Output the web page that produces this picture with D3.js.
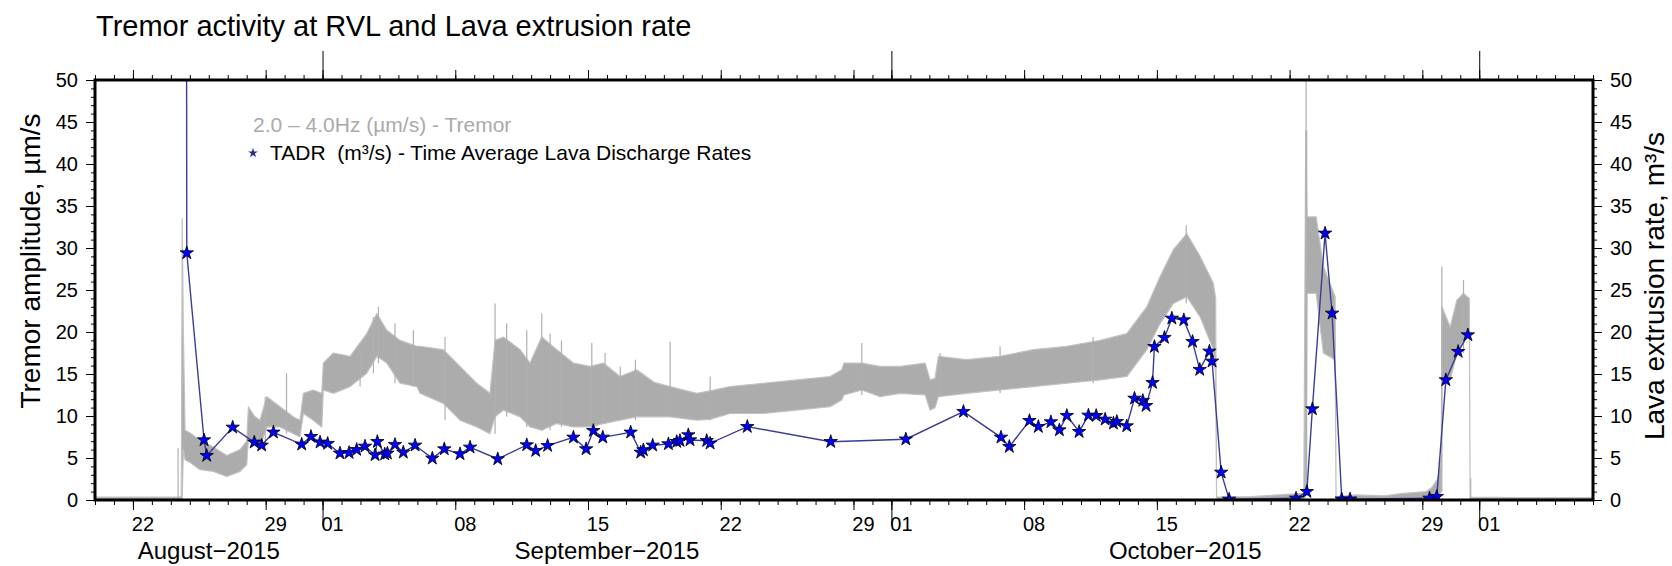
<!DOCTYPE html>
<html>
<head>
<meta charset="utf-8">
<script src="https://cdn.jsdelivr.net/npm/d3@7"></script>
<style>
  body { margin: 0; background: #fff; }
  svg { display: block; }
  text { font-family: "Liberation Sans", Arial, Helvetica, sans-serif; }
</style>
</head>
<body>
<svg id="chart" width="1672" height="566"></svg>
<script>
// ---------------- data (time = fractional days since 2015-08-20 00:00 UTC) ----------------
const startDate = new Date(Date.UTC(2015, 7, 20));
const endDate = new Date(Date.UTC(2015, 10, 7));

// Tremor 2.0-4.0 Hz band: upper and lower envelope of the dense signal (µm/s)
const tremorDay  = [0, 4.35, 4.55, 4.60, 4.66, 4.75, 5.0, 5.54, 6.24, 6.95, 7.65, 8.0, 8.09, 8.40, 8.70, 9.06, 9.76, 10.46, 10.81, 10.99, 11.51, 11.96, 12.04, 12.57, 13.45, 14.33, 14.86, 15.39, 16.09, 16.97, 17.14, 18.37, 19.25, 20.13, 20.83, 21.10, 21.54, 22.42, 22.94, 23.56, 24.35, 25.23, 26.11, 26.81, 27.69, 28.57, 29.5, 30.33, 31.73, 32.44, 33.49, 35.25, 37.01, 38.77, 39.38, 39.5, 40.44, 41.40, 42.46, 43.78, 44.04, 44.3, 44.48, 45.97, 47.73, 49.49, 51.25, 53.01, 54.41, 55.47, 56.17, 56.87, 57.58, 58.28, 58.98, 59.10, 59.15, 61.0, 63.75, 63.85, 63.92, 64.4, 64.78, 65.40, 65.45, 66.5, 68.0, 69.0, 70.2, 70.5, 70.8, 71.0, 71.03, 71.47, 71.82, 72.17, 72.48, 72.52, 75.0, 79.0];
const tremorHigh = [0.35, 0.35, 0.4, 33.5, 20, 8.3, 8.0, 7.1, 6.3, 5.3, 6.0, 7.0, 11.1, 10.0, 9.5, 12.3, 11.1, 9.9, 9.5, 12.7, 13.1, 12.7, 16.3, 17.5, 17.1, 19.8, 22.2, 20.2, 19.0, 18.3, 18.3, 17.9, 15.9, 13.9, 12.7, 19.0, 19.4, 17.9, 16.3, 19.4, 17.9, 16.3, 15.9, 16.3, 14.7, 15.5, 14.0, 13.5, 12.7, 13.0, 13.5, 13.9, 14.3, 14.7, 15.5, 16.3, 16.3, 15.9, 15.9, 16.3, 14.3, 14.5, 17.1, 16.7, 17.1, 17.9, 18.3, 19.0, 19.8, 23.0, 26.6, 29.8, 31.7, 29.0, 25.8, 24.0, 0.35, 0.4, 0.8, 44, 33.7, 33.7, 27.8, 24.2, 0.4, 0.6, 0.5, 0.8, 1.0, 1.5, 2.5, 5.0, 23.0, 20.6, 23.8, 24.6, 24.0, 0.35, 0.3, 0.3];
const tremorLow  = [0, 0, 0, 0.2, 6.0, 4.8, 4.5, 3.6, 3.4, 2.8, 3.4, 4.2, 7.3, 6.6, 6.3, 8.7, 8.7, 7.9, 7.5, 10.3, 9.5, 8.7, 13.1, 12.7, 13.5, 15.1, 17.1, 16.3, 13.9, 13.5, 12.7, 11.5, 9.5, 8.7, 7.9, 9.9, 10.7, 9.9, 8.7, 8.3, 9.1, 8.7, 8.7, 9.1, 9.5, 9.9, 9.9, 9.9, 9.5, 9.6, 10.3, 10.3, 10.7, 11.1, 11.9, 12.5, 13.1, 12.3, 12.7, 12.5, 10.7, 11.0, 12.3, 12.7, 13.1, 13.5, 13.9, 14.3, 14.7, 17.9, 21.0, 23.4, 24.2, 21.8, 17.9, 15.0, 0, 0, 0, 0.5, 24.6, 24.6, 17.5, 16.7, 0, 0, 0, 0, 0, 0, 0.3, 1.0, 14.3, 14.3, 17.5, 19.0, 19.5, 0, 0, 0];

// Isolated tremor spikes reaching above the band
const spikeDay   = [4.38, 8.98, 10.1, 13.98, 14.68, 14.95, 15.82, 16.79, 18.46, 21.10, 21.71, 22.77, 23.56, 24.0, 24.6, 26.2, 26.9, 27.7, 28.5, 30.33, 32.44, 40.44, 44.57, 47.73, 52.64, 57.55, 63.87, 63.90, 71.03, 72.17, 72.55];
const spikeValue = [6.2, 12.3, 15.1, 18.3, 21.8, 23.0, 21.0, 20.2, 19.4, 23.4, 21.0, 20.2, 22.2, 19.8, 19.0, 18.7, 17.5, 15.9, 16.7, 18.8, 14.7, 18.7, 17.5, 18.3, 19.4, 32.7, 50, 44, 27.8, 26.2, 2.6];

// TADR - Time Average Lava Discharge Rates (m³/s)
const tadrDay   = [4.82, 4.84, 5.75, 5.89, 7.26, 8.40, 8.79, 9.41, 10.90, 11.39, 11.87, 12.27, 12.92, 13.40, 13.80, 14.24, 14.77, 14.89, 15.28, 15.42, 15.82, 16.26, 16.88, 17.79, 18.42, 19.25, 19.78, 21.24, 22.77, 23.24, 23.87, 25.23, 25.90, 26.28, 26.78, 28.25, 28.78, 28.92, 29.41, 30.24, 30.68, 30.85, 31.29, 31.38, 32.26, 32.44, 34.40, 38.80, 42.76, 45.80, 47.78, 48.22, 49.28, 49.75, 50.41, 50.86, 51.25, 51.90, 52.39, 52.80, 53.27, 53.71, 53.89, 54.41, 54.82, 55.26, 55.43, 55.77, 55.87, 56.40, 56.79, 57.42, 57.88, 58.26, 58.77, 58.91, 59.39, 59.81, 63.34, 63.91, 64.20, 64.87, 65.24, 65.75, 66.19, 70.38, 70.76, 71.24, 71.89, 72.40];
const tadrValue = [80, 29.4, 7.14, 5.28, 8.65, 6.87, 6.51, 8.06, 6.63, 7.54, 6.87, 6.71, 5.56, 5.63, 5.99, 6.39, 5.36, 6.94, 5.45, 5.56, 6.59, 5.67, 6.51, 4.96, 6.07, 5.48, 6.27, 4.88, 6.55, 5.87, 6.47, 7.46, 6.07, 8.25, 7.46, 8.06, 5.67, 5.95, 6.51, 6.67, 6.94, 7.06, 7.74, 7.14, 7.06, 6.75, 8.73, 6.94, 7.24, 10.52, 7.46, 6.35, 9.44, 8.73, 9.29, 8.33, 10.04, 8.13, 10.08, 10.04, 9.60, 9.13, 9.33, 8.81, 12.10, 11.83, 11.23, 13.97, 18.25, 19.33, 21.63, 21.43, 18.85, 15.52, 17.70, 16.51, 3.29, 0.08, 0.2, 0.99, 10.83, 31.75, 22.22, 0.1, 0.1, 0.2, 0.4, 14.29, 17.66, 19.64];

// Axis text
const yMajorTicks = [0, 5, 10, 15, 20, 25, 30, 35, 40, 45, 50];
const monthLabels = ["August\u22122015", "September\u22122015", "October\u22122015"];
const titleText = "Tremor activity at RVL and Lava extrusion rate";
const leftLabel = "Tremor amplitude, \u00b5m/s";
const rightLabel = "Lava extrusion rate, m\u00b3/s";
const legendTremor = "2.0 \u2013 4.0Hz (\u00b5m/s) - Tremor";
const legendTadr = "TADR  (m\u00b3/s) - Time Average Lava Discharge Rates";

// ---------------- chart ----------------
const DAY = 864e5;
const toDate = d => new Date(startDate.getTime() + d * DAY);
const L = 95, R = 1593, T = 80, B = 500;

const svg = d3.select("#chart");
const x = d3.scaleUtc().domain([startDate, endDate]).range([L, R]);
const y = d3.scaleLinear().domain([0, 50]).range([B, T]);
const y2 = d3.scaleLinear().domain([0, 50]).range([B, T]);

svg.append("defs").append("clipPath").attr("id", "plot")
  .append("rect").attr("x", L).attr("y", T).attr("width", R - L).attr("height", B - T);

const plot = svg.append("g").attr("clip-path", "url(#plot)");

// tremor band
const tremor = tremorDay.map((d, i) => ({ t: toDate(d), hi: tremorHigh[i], lo: tremorLow[i] }));
plot.append("path")
  .datum(tremor)
  .attr("fill", "#acacac")
  .attr("stroke", "#c2c2c2")
  .attr("stroke-width", 1.2)
  .attr("stroke-linejoin", "round")
  .attr("d", d3.area().x(d => x(d.t)).y0(d => y(d.lo)).y1(d => y(d.hi)));

// tremor spikes, rising from the band's lower edge
const bis = d3.bisector(d => d).left;
function lowAt(day) {
  const i = Math.max(1, Math.min(tremorDay.length - 1, bis(tremorDay, day)));
  const d0 = tremorDay[i - 1], d1 = tremorDay[i];
  const f = (day - d0) / (d1 - d0);
  return Math.min(tremorLow[i - 1], tremorLow[i]) + 0 * f;
}
plot.append("g").selectAll("line")
  .data(spikeDay.map((d, i) => ({ t: toDate(d), v: spikeValue[i], lo: lowAt(d) })))
  .join("line")
  .attr("x1", d => x(d.t)).attr("x2", d => x(d.t))
  .attr("y1", d => y(d.lo)).attr("y2", d => y(d.v))
  .attr("stroke", "#b0b0b0").attr("stroke-width", 1.2);

// TADR line + stars
const tadr = tadrDay.map((d, i) => ({ t: toDate(d), v: tadrValue[i] }));
plot.append("path")
  .datum(tadr)
  .attr("fill", "none")
  .attr("stroke", "#3c3c98")
  .attr("stroke-width", 1.4)
  .attr("d", d3.line().x(d => x(d.t)).y(d => y2(d.v)));

const star = d3.symbol().type(d3.symbolStar).size(56);
plot.append("g").selectAll("path")
  .data(tadr.slice(1))
  .join("path")
  .attr("transform", d => `translate(${x(d.t)},${y2(d.v)})`)
  .attr("d", star)
  .attr("fill", "#0000ff")
  .attr("stroke", "#000")
  .attr("stroke-width", 0.8);

// ---------------- axes ----------------
const days = d3.utcDay.range(startDate, d3.utcDay.offset(endDate, 1));
const weekly = d3.utcDay.every(7).range(startDate, d3.utcDay.offset(endDate, 1));
const months = d3.utcMonth.range(startDate, d3.utcDay.offset(endDate, 1)).filter(d => d > startDate);

function tickAxis(axisFn, values, size, yPos) {
  const g = svg.append("g").attr("transform", `translate(0,${yPos})`)
    .call(axisFn(x).tickValues(values).tickSize(size).tickFormat(""));
  g.select(".domain").remove();
  g.selectAll(".tick line").attr("stroke", "#000").attr("stroke-width", 1);
  return g;
}
// bottom
tickAxis(d3.axisBottom, days, 5, B);
tickAxis(d3.axisBottom, weekly, 10, B);
tickAxis(d3.axisBottom, months, 26, B);
// top
tickAxis(d3.axisTop, days, 5, T);
tickAxis(d3.axisTop, weekly, 10, T);
tickAxis(d3.axisTop, months, 29, T);

// day labels centred on each day interval
const labelG = svg.append("g").attr("transform", `translate(0,${B})`)
  .call(d3.axisBottom(x).tickValues(weekly.map(d => new Date(d.getTime() + DAY / 2)))
    .tickSize(0).tickPadding(17).tickFormat(d3.utcFormat("%d")));
labelG.select(".domain").remove();
labelG.selectAll("text").attr("font-size", 20).attr("fill", "#000")
  .style("font-family", '"Liberation Sans", Arial, sans-serif');

// month labels centred on the visible part of each month
const monthStarts = [startDate].concat(months);
svg.append("g").selectAll("text")
  .data(monthLabels)
  .join("text")
  .attr("x", (d, i) => (x(monthStarts[i]) + x(monthStarts[i + 1])) / 2)
  .attr("y", 559)
  .attr("text-anchor", "middle")
  .attr("font-size", 24)
  .text(d => d);

// y axes
function yAxis(axisFn, scale, xPos) {
  const minor = svg.append("g").attr("transform", `translate(${xPos},0)`)
    .call(axisFn(scale).tickValues(d3.range(0, 51, 1)).tickSize(4).tickFormat(""));
  minor.select(".domain").remove();
  minor.selectAll("line").attr("stroke", "#000");
  const major = svg.append("g").attr("transform", `translate(${xPos},0)`)
    .call(axisFn(scale).tickValues(yMajorTicks).tickSize(9).tickPadding(8));
  major.select(".domain").remove();
  major.selectAll("text").attr("font-size", 20).attr("fill", "#000")
    .style("font-family", '"Liberation Sans", Arial, sans-serif');
  major.selectAll("line").attr("stroke", "#000");
}
yAxis(d3.axisLeft, y, L);
yAxis(d3.axisRight, y2, R);

// frame
svg.append("rect")
  .attr("x", L).attr("y", T).attr("width", R - L).attr("height", B - T)
  .attr("fill", "none").attr("stroke", "#000").attr("stroke-width", 3);

// axis titles
svg.append("text")
  .attr("transform", `translate(40,261) rotate(-90)`)
  .attr("text-anchor", "middle").attr("font-size", 28)
  .text(leftLabel);
svg.append("text")
  .attr("transform", `translate(1664,286) rotate(-90)`)
  .attr("text-anchor", "middle").attr("font-size", 28)
  .text(rightLabel);

// title
svg.append("text").attr("x", 96).attr("y", 36).attr("font-size", 29).text(titleText);

// legend
svg.append("text").attr("x", 253).attr("y", 132).attr("font-size", 21)
  .attr("fill", "#aaaaaa").text(legendTremor);
svg.append("path")
  .attr("transform", "translate(253,153)")
  .attr("d", d3.symbol().type(d3.symbolStar).size(30))
  .attr("fill", "#2e2e80");
svg.append("text").attr("x", 270).attr("y", 160).attr("font-size", 21)
  .attr("xml:space", "preserve").style("white-space", "pre")
  .attr("fill", "#000").text(legendTadr);
</script>
</body>
</html>
